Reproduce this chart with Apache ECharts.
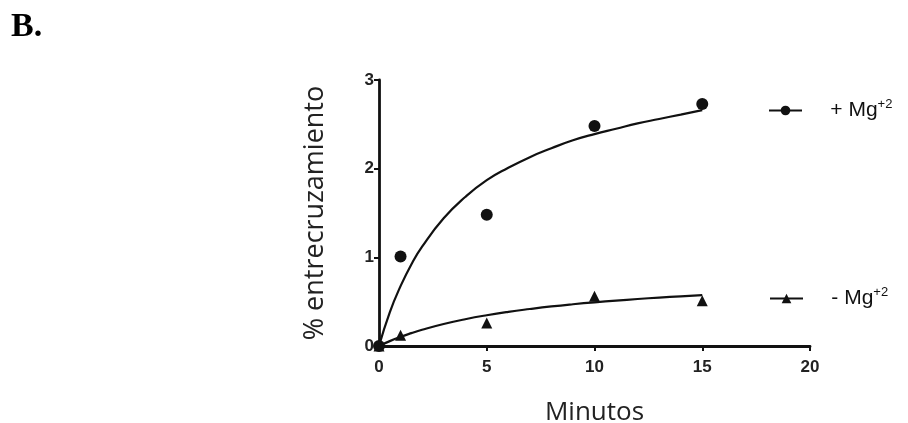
<!DOCTYPE html>
<html><head><meta charset="utf-8">
<script src="https://cdn.jsdelivr.net/npm/echarts@6/dist/echarts.min.js"></script>
<style>html,body{margin:0;padding:0;background:#fff}#c{width:908px;height:423px}</style>
</head><body><div id="c"></div>
<script>
// measured points
const timeMin = [0, 1, 5, 10, 15];
const withMg = [0, 1.01, 1.48, 2.48, 2.73];
const withoutMg = [0, 0.12, 0.26, 0.56, 0.51];
// fitted curves
const curveX = [0, 0.5, 1, 1.5, 2, 3, 4, 5, 6, 7, 8, 9, 10, 11, 12, 13, 14, 15];
const curveWithMg = [0, 0.38, 0.675, 0.92, 1.12, 1.44, 1.68, 1.87, 2.01, 2.13, 2.23, 2.32, 2.39, 2.45, 2.51, 2.56, 2.61, 2.66];
const curveWithoutMg = [0, 0.055, 0.103, 0.145, 0.183, 0.248, 0.302, 0.347, 0.385, 0.417, 0.446, 0.471, 0.493, 0.512, 0.53, 0.546, 0.56, 0.573];
const xTicks = [0, 5, 10, 15, 20];
const yTicks = [0, 1, 2, 3];

const zip = (a, b) => a.map((v, i) => [v, b[i]]);
const chart = echarts.init(document.getElementById('c'));
const legendText = {
  color: '#111', fontFamily: 'Liberation Sans', fontSize: 21,
  rich: {
    t: {fontFamily: 'Liberation Sans', fontSize: 21, color: '#111'},
    s: {fontFamily: 'Liberation Sans', fontSize: 13, color: '#111', padding: [0, 0, 12, 0]}
  }
};
chart.setOption({
  animation: false,
  backgroundColor: '#fff',
  graphic: [{type: 'text', left: 11, top: 10, style: {text: 'B.', font: 'bold 34px "Liberation Serif"', fill: '#000'}}],
  grid: {left: 379, right: 98, top: 80, bottom: 77, containLabel: false, outerBoundsMode: 'none'},
  legend: [
    {data: ['+ Mg'], left: 763, top: 93, itemWidth: 33, itemHeight: 12, itemGap: 0,
     formatter: () => '{t|    + Mg}{s|+2}', textStyle: legendText},
    {data: ['- Mg'], left: 764, top: 281, itemWidth: 33, itemHeight: 12, itemGap: 0,
     formatter: () => '{t|    - Mg}{s|+2}', textStyle: legendText}
  ],
  xAxis: {
    type: 'value', min: xTicks[0], max: xTicks[xTicks.length - 1], interval: 5,
    name: 'Minutos', nameLocation: 'middle', nameGap: 54,
    nameTextStyle: {fontFamily: 'Open Sans', fontSize: 26, color: '#222'},
    axisLine: {lineStyle: {color: '#111', width: 2.8}},
    axisTick: {show: true, length: 5, lineStyle: {color: '#111', width: 2}},
    axisLabel: {fontFamily: 'Liberation Sans', fontWeight: 'bold', fontSize: 17, color: '#222', margin: 13},
    splitLine: {show: false}
  },
  yAxis: {
    type: 'value', min: yTicks[0], max: yTicks[yTicks.length - 1], interval: 1,
    name: '% entrecruzamiento', nameLocation: 'middle', nameGap: 50, nameRotate: 90,
    nameTextStyle: {fontFamily: 'Open Sans', fontSize: 27, color: '#222'},
    axisLine: {show: true, lineStyle: {color: '#111', width: 2.8}},
    axisTick: {show: true, length: 5, lineStyle: {color: '#111', width: 2}},
    axisLabel: {fontFamily: 'Liberation Sans', fontWeight: 'bold', fontSize: 17, color: '#222', margin: 5},
    splitLine: {show: false}
  },
  series: [
    {type: 'line', data: zip(curveX, curveWithMg), smooth: true, showSymbol: false,
     lineStyle: {color: '#111', width: 2.2}, silent: true},
    {type: 'line', data: zip(curveX, curveWithoutMg), smooth: true, showSymbol: false,
     lineStyle: {color: '#111', width: 2.2}, silent: true},
    {type: 'scatter', data: zip(timeMin, withMg), symbol: 'circle', symbolSize: 12,
     itemStyle: {color: '#111', opacity: 1}},
    {type: 'scatter', data: zip(timeMin, withoutMg), symbol: 'triangle', symbolSize: 11,
     itemStyle: {color: '#111', opacity: 1}},
    {name: '+ Mg', type: 'line', data: [], symbol: 'circle', symbolSize: 12,
     itemStyle: {color: '#111'}, lineStyle: {color: '#111', width: 2.8}},
    {name: '- Mg', type: 'line', data: [], symbol: 'triangle', symbolSize: 11,
     itemStyle: {color: '#111'}, lineStyle: {color: '#111', width: 2.8}}
  ]
});
</script></body></html>
